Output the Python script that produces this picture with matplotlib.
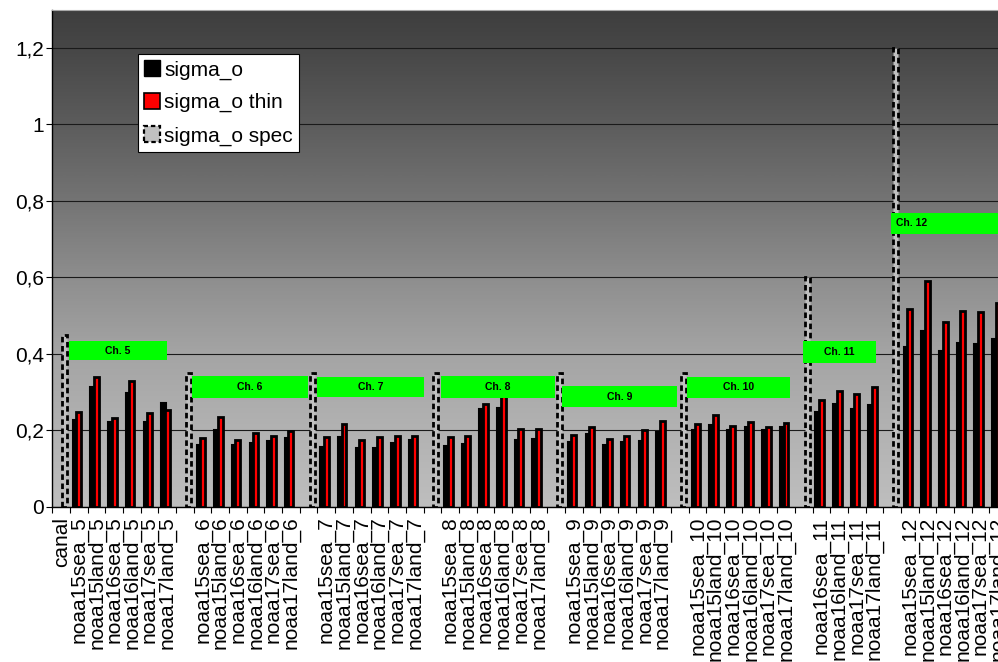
import numpy as np
import matplotlib
matplotlib.use('Agg')
import matplotlib.pyplot as plt
from matplotlib.colors import LinearSegmentedColormap
from matplotlib.patches import Patch, Rectangle

plt.rcParams['font.family'] = ['Liberation Sans', 'DejaVu Sans']

nan = np.nan

categories = [
    'canal',
    'noaa15sea_5', 'noaa15land_5', 'noaa16sea_5', 'noaa16land_5', 'noaa17sea_5', 'noaa17land_5', '',
    'noaa15sea_6', 'noaa15land_6', 'noaa16sea_6', 'noaa16land_6', 'noaa17sea_6', 'noaa17land_6', '',
    'noaa15sea_7', 'noaa15land_7', 'noaa16sea_7', 'noaa16land_7', 'noaa17sea_7', 'noaa17land_7', '',
    'noaa15sea_8', 'noaa15land_8', 'noaa16sea_8', 'noaa16land_8', 'noaa17sea_8', 'noaa17land_8', '',
    'noaa15sea_9', 'noaa15land_9', 'noaa16sea_9', 'noaa16land_9', 'noaa17sea_9', 'noaa17land_9', '',
    'noaa15sea_10', 'noaa15land_10', 'noaa16sea_10', 'noaa16land_10', 'noaa17sea_10', 'noaa17land_10', '',
    'noaa16sea_11', 'noaa16land_11', 'noaa17sea_11', 'noaa17land_11', '',
    'noaa15sea_12', 'noaa15land_12', 'noaa16sea_12', 'noaa16land_12', 'noaa17sea_12', 'noaa17land_12',
]

sigma_o = [
    nan,
    0.227, 0.313, 0.221, 0.297, 0.223, 0.271, nan,
    0.162, 0.202, 0.162, 0.168, 0.172, 0.180, nan,
    0.158, 0.182, 0.153, 0.155, 0.167, 0.175, nan,
    0.159, 0.165, 0.256, 0.260, 0.175, 0.177, nan,
    0.170, 0.190, 0.162, 0.170, 0.173, 0.196, nan,
    0.200, 0.214, 0.201, 0.210, 0.201, 0.208, nan,
    0.248, 0.268, 0.256, 0.266, nan,
    0.419, 0.460, 0.408, 0.429, 0.427, 0.440,
]

sigma_o_thin = [
    nan,
    0.249, 0.341, 0.233, 0.329, 0.246, 0.254, nan,
    0.181, 0.234, 0.175, 0.193, 0.185, 0.198, nan,
    0.183, 0.217, 0.174, 0.184, 0.186, 0.186, nan,
    0.184, 0.186, 0.268, 0.290, 0.205, 0.203, nan,
    0.189, 0.209, 0.179, 0.185, 0.200, 0.224, nan,
    0.216, 0.241, 0.212, 0.223, 0.210, 0.220, nan,
    0.281, 0.302, 0.296, 0.313, nan,
    0.518, 0.590, 0.484, 0.512, 0.509, 0.533,
]

sigma_o_spec = [
    0.45,
    nan, nan, nan, nan, nan, nan, 0.35,
    nan, nan, nan, nan, nan, nan, 0.35,
    nan, nan, nan, nan, nan, nan, 0.35,
    nan, nan, nan, nan, nan, nan, 0.35,
    nan, nan, nan, nan, nan, nan, 0.35,
    nan, nan, nan, nan, nan, nan, 0.6,
    nan, nan, nan, nan, 1.2,
    nan, nan, nan, nan, nan, nan,
]

yticks = [0, 0.2, 0.4, 0.6, 0.8, 1.0, 1.2]
ytick_labels = ['0', '0,2', '0,4', '0,6', '0,8', '1', '1,2']

# channel tags: text, x from, x to, y from, y to (data units)
channel_boxes = [
    ('Ch. 5', 0.45, 6.0, 0.384, 0.434),
    ('Ch. 6', 7.40, 13.96, 0.285, 0.342),
    ('Ch. 7', 14.47, 20.52, 0.288, 0.340),
    ('Ch. 8', 21.48, 27.93, 0.285, 0.342),
    ('Ch. 9', 28.33, 34.82, 0.261, 0.316),
    ('Ch. 10', 35.40, 41.23, 0.285, 0.340),
    ('Ch. 11', 41.96, 46.09, 0.376, 0.434),
    ('Ch. 12', 46.93, 56.0, 0.714, 0.769),
]

W, H = 998, 662
fig = plt.figure(figsize=(W / 100, H / 100), dpi=100)
ax = fig.add_axes([52.3 / W, 1 - 507 / H, 954.7 / W, 497.3 / H])

# grey vertical gradient behind the plot, light at the bottom
grad = np.linspace(0, 1, 512).reshape(-1, 1)
cmap = LinearSegmentedColormap.from_list('bg', [
    (0.0, '#bebebe'), (0.154, '#b2b2b2'), (0.31, '#a4a4a4'), (0.46, '#8e8e8e'),
    (0.615, '#747474'), (0.77, '#5c5c5c'), (0.92, '#474747'), (1.0, '#3e3e3e')])
ax.imshow(grad, cmap=cmap, origin='lower', extent=(0, 1, 0, 1),
          transform=ax.transAxes, aspect='auto', zorder=0)

x = np.arange(len(categories))
bw = 0.28
spec_style = (0, (2.0, 1.3))
ax.bar(x - 0.2, sigma_o, bw, color='black', edgecolor='black', linewidth=1.5, zorder=3)
ax.bar(x, sigma_o_thin, bw, color='#ff0000', edgecolor='black', linewidth=2.0, zorder=4)
ax.bar(x + 0.2, sigma_o_spec, bw, color='#c0c0c0', edgecolor='black', linewidth=2.0,
       linestyle=spec_style, zorder=5)

for label, x0, x1, y0, y1 in channel_boxes:
    ax.add_patch(Rectangle((x0, y0), x1 - x0, y1 - y0, facecolor='#00ff00',
                           edgecolor='none', zorder=6))
    if label == 'Ch. 12':
        ax.text(x0 + 0.3, (y0 + y1) / 2, label, ha='left', va='center',
                fontsize=7.5, fontweight='bold', zorder=7)
    else:
        ax.text((x0 + x1) / 2, (y0 + y1) / 2, label, ha='center', va='center',
                fontsize=7.5, fontweight='bold', zorder=7)

ax.set_xlim(-0.5, len(categories) - 0.5)
ax.set_ylim(0, 1.3)

ax.set_yticks(yticks)
ax.set_yticklabels(ytick_labels, fontsize=15)
ax.yaxis.grid(True, color='#1a1a1a', linewidth=0.8)
for gl in ax.get_ygridlines():
    gl.set_zorder(2)
ax.tick_params(axis='y', length=4.5, width=0.8, pad=1.5, direction='out')

ax.set_xticks(x)
ax.set_xticklabels(categories, rotation=90, fontsize=15, va='top', ha='center')
ax.set_xticks(np.arange(len(categories) + 1) - 0.5, minor=True)
ax.tick_params(axis='x', which='major', length=0, pad=7)
ax.tick_params(axis='x', which='minor', length=4.5, width=0.8, direction='out')

ax.spines['top'].set_color('#a8a8a8')
ax.spines['right'].set_visible(False)
ax.spines['left'].set_linewidth(1)
ax.spines['bottom'].set_linewidth(1)

handles = [
    Patch(facecolor='black', edgecolor='black'),
    Patch(facecolor='#ff0000', edgecolor='black', linewidth=1.2),
    Patch(facecolor='#c0c0c0', edgecolor='black', linewidth=1.6, linestyle=spec_style),
]
leg = fig.legend(handles, ['sigma_o', 'sigma_o thin', 'sigma_o spec'],
                 loc='upper left', bbox_to_anchor=(138 / W, 1 - 54 / H),
                 bbox_transform=fig.transFigure, fontsize=15, frameon=True,
                 fancybox=False, framealpha=1, edgecolor='black',
                 handlelength=0.75, handleheight=0.75, handletextpad=0.2,
                 labelspacing=0.66, borderpad=0.3, borderaxespad=0)
leg.get_frame().set_linewidth(0.8)

fig.savefig('out.png', dpi=100)
